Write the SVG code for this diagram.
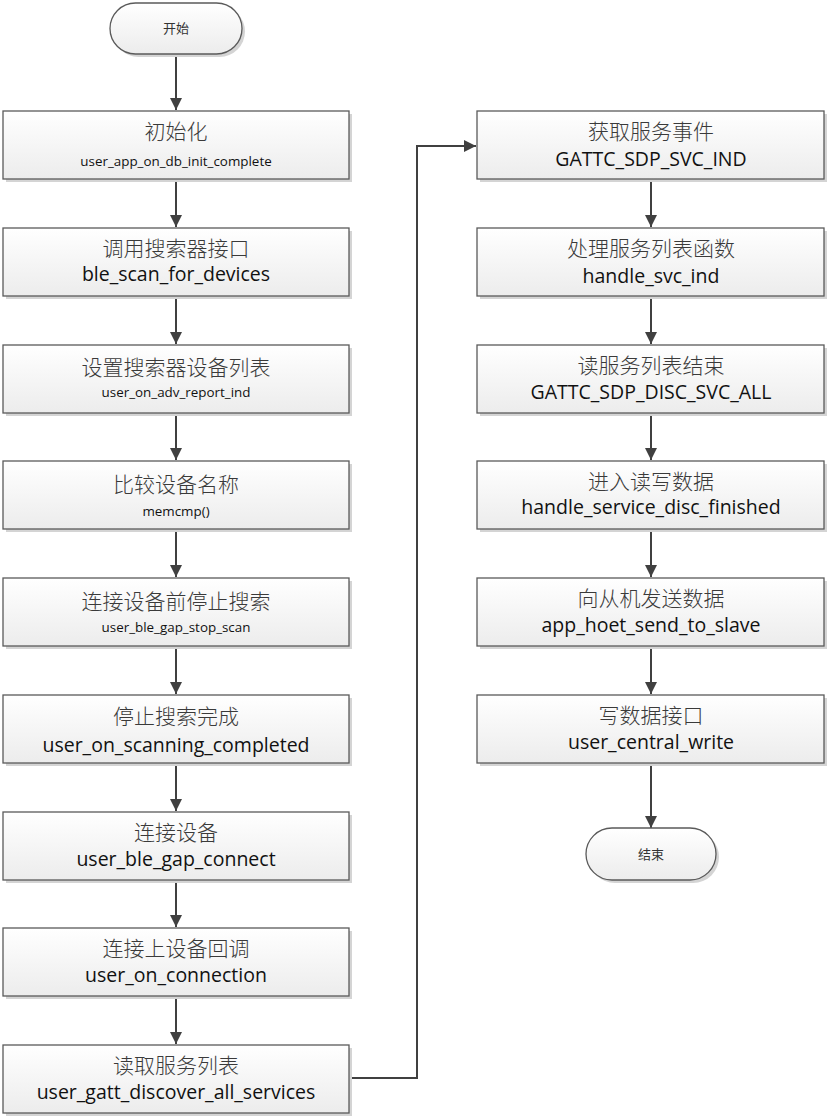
<svg xmlns="http://www.w3.org/2000/svg" width="831" height="1120" viewBox="0 0 831 1120">
<style>
.box{fill:url(#g);stroke:#5a5a5a;stroke-width:1.3}
.sh{fill:#d4d4d4}
.t{font-family:"Noto Sans CJK SC","Noto Sans",sans-serif;font-size:21px;fill:#3a3a3a;text-anchor:middle;font-weight:300}
.s{font-family:"Open Sans","Noto Sans",sans-serif;font-size:13.4px;fill:#111;text-anchor:middle}
.b{font-family:"Open Sans","Noto Sans",sans-serif;font-size:19.5px;fill:#111;text-anchor:middle}
.term{font-family:"Noto Sans CJK SC",sans-serif;font-size:13px;fill:#333;text-anchor:middle}
.c{stroke:#404040;stroke-width:2;fill:none;marker-end:url(#a)}
</style>
<defs>
<linearGradient id="g" x1="0" y1="0" x2="0" y2="1">
<stop offset="0" stop-color="#ffffff"/>
<stop offset="1" stop-color="#ececec"/>
</linearGradient>
<marker id="a" markerUnits="userSpaceOnUse" markerWidth="14" markerHeight="14" viewBox="0 0 14 14" refX="13" refY="7" orient="auto">
<path d="M1,1 L13,7 L1,13 Z" fill="#404040"/>
</marker>
</defs>
<g id="connectors">
<line class="c" x1="176" y1="54" x2="176" y2="110"/>
<line class="c" x1="176" y1="179" x2="176" y2="227"/>
<line class="c" x1="176" y1="296" x2="176" y2="344"/>
<line class="c" x1="176" y1="413" x2="176" y2="460"/>
<line class="c" x1="176" y1="529" x2="176" y2="577"/>
<line class="c" x1="176" y1="646" x2="176" y2="694"/>
<line class="c" x1="176" y1="763" x2="176" y2="811"/>
<line class="c" x1="176" y1="880" x2="176" y2="927"/>
<line class="c" x1="176" y1="996" x2="176" y2="1044"/>
<polyline class="c" points="349,1078 417,1078 417,146 476,146"/>
<line class="c" x1="651" y1="179" x2="651" y2="227"/>
<line class="c" x1="651" y1="296" x2="651" y2="344"/>
<line class="c" x1="651" y1="413" x2="651" y2="460"/>
<line class="c" x1="651" y1="529" x2="651" y2="577"/>
<line class="c" x1="651" y1="646" x2="651" y2="694"/>
<line class="c" x1="651" y1="763" x2="651" y2="828"/>
</g>
<g id="start">
<rect class="sh" x="113" y="6" width="132" height="51" rx="25.5"/>
<rect class="box" x="110" y="3" width="132" height="51" rx="25.5"/>
<text class="term" x="176" y="33">开始</text>
</g>
<g id="n1">
<rect class="sh" x="6" y="114" width="346" height="68"/>
<rect class="box" x="3" y="111" width="346" height="68"/>
<text class="t" x="176" y="139">初始化</text>
<text class="s" x="176" y="166">user_app_on_db_init_complete</text>
</g>
<g id="n2">
<rect class="sh" x="6" y="231" width="346" height="68"/>
<rect class="box" x="3" y="228" width="346" height="68"/>
<text class="t" x="176" y="256">调用搜索器接口</text>
<text class="b" x="176" y="281">ble_scan_for_devices</text>
</g>
<g id="n3">
<rect class="sh" x="6" y="348" width="346" height="68"/>
<rect class="box" x="3" y="345" width="346" height="68"/>
<text class="t" x="176" y="375">设置搜索器设备列表</text>
<text class="s" x="176" y="397">user_on_adv_report_ind</text>
</g>
<g id="n4">
<rect class="sh" x="6" y="464" width="346" height="68"/>
<rect class="box" x="3" y="461" width="346" height="68"/>
<text class="t" x="176" y="492">比较设备名称</text>
<text class="s" x="176" y="516">memcmp()</text>
</g>
<g id="n5">
<rect class="sh" x="6" y="581" width="346" height="68"/>
<rect class="box" x="3" y="578" width="346" height="68"/>
<text class="t" x="176" y="609">连接设备前停止搜索</text>
<text class="s" x="176" y="632">user_ble_gap_stop_scan</text>
</g>
<g id="n6">
<rect class="sh" x="6" y="698" width="346" height="68"/>
<rect class="box" x="3" y="695" width="346" height="68"/>
<text class="t" x="176" y="724">停止搜索完成</text>
<text class="b" x="176" y="752">user_on_scanning_completed</text>
</g>
<g id="n7">
<rect class="sh" x="6" y="815" width="346" height="68"/>
<rect class="box" x="3" y="812" width="346" height="68"/>
<text class="t" x="176" y="840">连接设备</text>
<text class="b" x="176" y="866">user_ble_gap_connect</text>
</g>
<g id="n8">
<rect class="sh" x="6" y="931" width="346" height="68"/>
<rect class="box" x="3" y="928" width="346" height="68"/>
<text class="t" x="176" y="956">连接上设备回调</text>
<text class="b" x="176" y="982">user_on_connection</text>
</g>
<g id="n9">
<rect class="sh" x="6" y="1048" width="346" height="68"/>
<rect class="box" x="3" y="1045" width="346" height="68"/>
<text class="t" x="176" y="1073">读取服务列表</text>
<text class="b" x="176" y="1099">user_gatt_discover_all_services</text>
</g>
<g id="r1">
<rect class="sh" x="480" y="114" width="347" height="68"/>
<rect class="box" x="477" y="111" width="347" height="68"/>
<text class="t" x="651" y="139">获取服务事件</text>
<text class="b" x="651" y="166">GATTC_SDP_SVC_IND</text>
</g>
<g id="r2">
<rect class="sh" x="480" y="231" width="347" height="68"/>
<rect class="box" x="477" y="228" width="347" height="68"/>
<text class="t" x="651" y="256">处理服务列表函数</text>
<text class="b" x="651" y="283">handle_svc_ind</text>
</g>
<g id="r3">
<rect class="sh" x="480" y="348" width="347" height="68"/>
<rect class="box" x="477" y="345" width="347" height="68"/>
<text class="t" x="651" y="373">读服务列表结束</text>
<text class="b" x="651" y="399">GATTC_SDP_DISC_SVC_ALL</text>
</g>
<g id="r4">
<rect class="sh" x="480" y="464" width="347" height="68"/>
<rect class="box" x="477" y="461" width="347" height="68"/>
<text class="t" x="651" y="489">进入读写数据</text>
<text class="b" x="651" y="514">handle_service_disc_finished</text>
</g>
<g id="r5">
<rect class="sh" x="480" y="581" width="347" height="68"/>
<rect class="box" x="477" y="578" width="347" height="68"/>
<text class="t" x="651" y="606">向从机发送数据</text>
<text class="b" x="651" y="632">app_hoet_send_to_slave</text>
</g>
<g id="r6">
<rect class="sh" x="480" y="698" width="347" height="68"/>
<rect class="box" x="477" y="695" width="347" height="68"/>
<text class="t" x="651" y="723">写数据接口</text>
<text class="b" x="651" y="749">user_central_write</text>
</g>
<g id="end">
<rect class="sh" x="589" y="831" width="130" height="52" rx="26"/>
<rect class="box" x="586" y="828" width="130" height="52" rx="26"/>
<text class="term" x="651" y="859">结束</text>
</g>
</svg>
